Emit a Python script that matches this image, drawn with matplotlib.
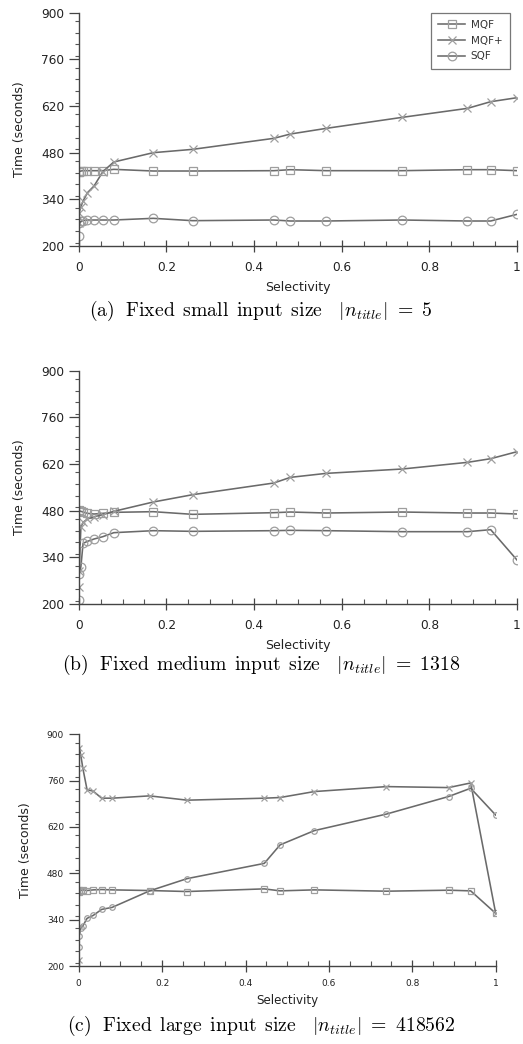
import matplotlib
matplotlib.use("Agg")
import matplotlib.pyplot as plt
from matplotlib.ticker import MultipleLocator

plt.rcParams['mathtext.fontset'] = 'cm'
plt.rcParams['font.family'] = ['DejaVu Sans']

selectivity = [0, 0.001, 0.005, 0.01, 0.02, 0.035, 0.055, 0.08, 0.17, 0.26,
               0.445, 0.483, 0.565, 0.738, 0.887, 0.94, 1.0]

series_names = ["MQF", "MQF+", "SQF"]

# (a) small input
a_mqf = [421, 423, 425, 426, 426, 426, 426, 430, 425, 425, 426, 429, 426, 426, 429, 429, 426]
a_mqfp = [270, 300, 318, 335, 360, 380, 423, 452, 480, 490, 523, 536, 553, 586, 613, 633, 645]
a_sqf = [230, 268, 274, 276, 278, 278, 278, 278, 283, 276, 278, 275, 275, 278, 275, 275, 295]

# (b) medium input
b_mqf = [482, 480, 478, 476, 472, 470, 472, 475, 477, 469, 474, 476, 473, 476, 473, 473, 470]
b_mqfp = [250, 300, 430, 445, 455, 462, 468, 478, 506, 528, 563, 580, 592, 605, 625, 636, 657]
b_sqf = [213, 290, 312, 382, 388, 395, 402, 414, 420, 418, 420, 421, 420, 417, 417, 423, 332]

# (c) large input
c_mqf = [425, 430, 428, 430, 428, 430, 431, 430, 428, 425, 433, 427, 430, 426, 429, 427, 359]
c_mqfp = [218, 860, 837, 797, 733, 728, 707, 707, 714, 701, 707, 709, 727, 742, 739, 753, 359]
c_sqf = [256, 291, 314, 321, 344, 353, 371, 377, 427, 464, 510, 566, 609, 659, 712, 737, 656]

yticks = [200, 340, 480, 620, 760, 900]
xticks = [0, 0.2, 0.4, 0.6, 0.8, 1]
xticklabels = ["0", "0.2", "0.4", "0.6", "0.8", "1"]

captions = [r"(a)$\ \ \mathrm{Fixed\ \,small\ \,input\ \,size}\ \ \ |n_{title}|\ =\ 5$",
            r"(b)$\ \ \mathrm{Fixed\ \,medium\ \,input\ \,size}\ \ \ |n_{title}|\ =\ 1318$",
            r"(c)$\ \ \mathrm{Fixed\ \,large\ \,input\ \,size}\ \ \ |n_{title}|\ =\ 418562$"]

W, H = 523, 1044
fig = plt.figure(figsize=(W / 100, H / 100), dpi=100)

line_col = '#6a6a6a'
mark_col = '#9e9e9e'
markers = ['s', 'x', 'o']

panels = [
    dict(data=[a_mqf, a_mqfp, a_sqf], left=78.7, right=517, top=12.7, bottom=246,
         tick_fs=8.7, lab_fs=9.0, ms=6.2, legend=True, cap_y=311, xpad=6.5, xlpad=5.5),
    dict(data=[b_mqf, b_mqfp, b_sqf], left=78.7, right=517, top=370.7, bottom=604,
         tick_fs=8.7, lab_fs=9.0, ms=6.2, legend=False, cap_y=665, xpad=6.5, xlpad=5.5),
    dict(data=[c_mqf, c_mqfp, c_sqf], left=78.7, right=495.7, top=734.3, bottom=966,
         tick_fs=6.5, lab_fs=8.6, ms=4.0, legend=False, cap_y=1026, xpad=5.0, xlpad=4.5),
]

for i, p in enumerate(panels):
    ax = fig.add_axes([p['left'] / W, 1 - p['bottom'] / H,
                       (p['right'] - p['left']) / W, (p['bottom'] - p['top']) / H])
    for name, vals, mk in zip(series_names, p['data'], markers):
        ax.plot(selectivity, vals, color=line_col, lw=1.15, marker=mk,
                markersize=p['ms'], markerfacecolor='none',
                markeredgecolor=mark_col, markeredgewidth=0.9, label=name)
    ax.set_xlim(0, 1)
    ax.set_ylim(200, 900)
    ax.set_xticks(xticks)
    ax.set_xticklabels(xticklabels)
    ax.set_yticks(yticks)
    ax.xaxis.set_minor_locator(MultipleLocator(0.05))
    ax.yaxis.set_minor_locator(MultipleLocator(35))
    for s in ['top', 'right']:
        ax.spines[s].set_visible(False)
    for s in ['left', 'bottom']:
        ax.spines[s].set_color('#444444')
        ax.spines[s].set_linewidth(1.0)
    ax.tick_params(axis='y', which='major', direction='out', length=7, width=0.9,
                   color='#444444', labelsize=p['tick_fs'], labelcolor='#222222', pad=3.5)
    ax.tick_params(axis='y', which='minor', direction='out', length=3, width=0.8,
                   color='#555555')
    ax.tick_params(axis='x', which='major', direction='inout', length=8, width=0.9,
                   color='#444444', labelsize=p['tick_fs'], labelcolor='#222222',
                   pad=p['xpad'])
    ax.tick_params(axis='x', which='minor', direction='in', length=3.5, width=0.8,
                   color='#555555')
    ax.set_xlabel("Selectivity", fontsize=p['lab_fs'], color='#222222', labelpad=p['xlpad'])
    ax.set_ylabel("Time (seconds)", fontsize=9.0, color='#222222', labelpad=11)
    if p['legend']:
        leg = ax.legend(loc='upper left', bbox_to_anchor=(431 / W, 1 - 12.7 / H),
                        bbox_transform=fig.transFigure, borderaxespad=0,
                        fontsize=7.5, frameon=True, fancybox=False, handlelength=2.6,
                        labelspacing=0.55, borderpad=0.7, handletextpad=0.5)
        leg.get_frame().set_edgecolor('#555555')
        leg.get_frame().set_linewidth(0.9)
        for t in leg.get_texts():
            t.set_color('#333333')
    fig.text(261 / W, 1 - p['cap_y'] / H, captions[i], ha='center', va='center',
             fontsize=14.2, family='cmr10')

fig.savefig("out.png", dpi=100)
